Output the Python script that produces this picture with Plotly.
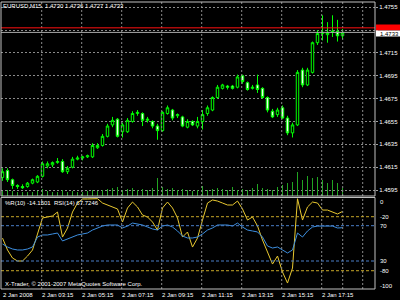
import plotly.graph_objects as go

# ---------------- data (EURUSD M15, 2 Jan 2008) ----------------
opens = [1.4606,1.4612,1.4604,1.4599,1.4598,1.4598,1.4601,1.4602,1.4607,1.4616,
         1.4617,1.4619,1.4620,1.4611,1.4615,1.4622,1.4623,1.4624,1.4624,1.4632,
         1.4634,1.4642,1.4652,1.4657,1.4646,1.4646,1.4655,1.4662,1.4662,1.4656,
         1.4655,1.4651,1.4647,1.4662,1.4665,1.4660,1.4659,1.4650,1.4655,1.4651,
         1.4655,1.4662,1.4665,1.4676,1.4684,1.4686,1.4686,1.4685,1.4695,1.4689,
         1.4684,1.4687,1.4684,1.4676,1.4664,1.4661,1.4667,1.4658,1.4645,1.4652,
         1.4700,1.4687,1.4698,1.4724,1.4732,1.4731,1.4733,1.4734,1.4730]
highs = [1.4614,1.4614,1.4605,1.4600,1.4600,1.4602,1.4605,1.4608,1.4620,1.4620,
         1.4620,1.4623,1.4622,1.4616,1.4624,1.4625,1.4625,1.4626,1.4636,1.4636,
         1.4644,1.4653,1.4659,1.4658,1.4654,1.4658,1.4664,1.4665,1.4663,1.4659,
         1.4656,1.4653,1.4664,1.4669,1.4666,1.4662,1.4660,1.4657,1.4656,1.4659,
         1.4665,1.4669,1.4677,1.4687,1.4688,1.4687,1.4687,1.4696,1.4696,1.4690,
         1.4687,1.4696,1.4685,1.4677,1.4666,1.4667,1.4669,1.4660,1.4654,1.4700,
         1.4702,1.4702,1.4725,1.4735,1.4748,1.4742,1.4748,1.4744,1.4736]
lows = [1.4603,1.4602,1.4596,1.4596,1.4596,1.4597,1.4600,1.4601,1.4606,1.4614,
        1.4615,1.4618,1.4610,1.4609,1.4614,1.4621,1.4621,1.4623,1.4623,1.4631,
        1.4633,1.4641,1.4650,1.4641,1.4641,1.4645,1.4654,1.4660,1.4651,1.4654,
        1.4649,1.4639,1.4646,1.4661,1.4656,1.4658,1.4650,1.4649,1.4651,1.4649,
        1.4648,1.4660,1.4664,1.4675,1.4683,1.4683,1.4683,1.4684,1.4688,1.4682,
        1.4683,1.4680,1.4675,1.4663,1.4658,1.4659,1.4657,1.4643,1.4641,1.4651,
        1.4685,1.4686,1.4697,1.4722,1.4726,1.4724,1.4729,1.4725,1.4727]
closes = [1.4611,1.4604,1.4599,1.4598,1.4597,1.4601,1.4604,1.4607,1.4618,1.4618,
          1.4619,1.4620,1.4611,1.4614,1.4622,1.4623,1.4624,1.4625,1.4634,1.4634,
          1.4642,1.4651,1.4656,1.4642,1.4652,1.4656,1.4662,1.4663,1.4656,1.4657,
          1.4651,1.4647,1.4663,1.4667,1.4658,1.4661,1.4651,1.4655,1.4652,1.4655,
          1.4661,1.4667,1.4676,1.4685,1.4687,1.4685,1.4684,1.4694,1.4690,1.4683,
          1.4685,1.4683,1.4676,1.4665,1.4659,1.4665,1.4658,1.4645,1.4652,1.4698,
          1.4687,1.4700,1.4724,1.4732,1.4733,1.4733,1.4734,1.4730,1.4733]
volumes = [25,30,24,20,22,18,20,26,35,24,20,22,30,20,26,18,20,24,
           30,24,30,35,40,45,30,36,40,30,35,30,40,90,45,35,40,30,
           35,30,25,30,50,30,35,40,35,30,45,30,35,30,40,60,40,35,
           30,45,55,65,70,118,80,100,90,95,80,65,80,65,40]
willr = [-43.7,-57.0,-65.9,-69.2,-69.2,-63.7,-57.0,-38.1,-21.4,-20.3,
         -19.2,-14.8,-42.6,-32.6,-14.8,-4.8,-0.3,-0.3,-0.3,0.0,
         -4.8,-7.0,-9.2,-11.4,-25.9,-10.3,-3.7,-9.2,-18.1,-20.3,
         -25.9,-34.8,-10.3,-3.7,-10.3,-21.4,-42.6,-37.0,-53.7,-43.7,
         -23.7,-4.8,-1.4,-2.6,-4.8,-7.0,-7.0,-2.6,-11.4,-23.7,
         -20.3,-30.3,-45.9,-60.3,-72.6,-63.7,-81.4,-93.7,-77.0,0.0,
         -23.7,-9.2,-3.7,-4.8,-12.6,-12.6,-14.8,-17.0,-14.15]
rsi = [49.3,45.9,43.6,42.5,42.5,43.6,45.9,57.2,59.5,59.5,
       60.6,61.7,52.7,54.9,57.2,59.5,60.6,61.7,65.1,67.4,
       69.6,70.8,70.8,70.8,67.4,69.6,73.0,71.9,70.8,68.5,
       66.3,65.1,69.6,70.8,68.5,64.0,58.3,56.1,56.1,57.2,
       60.6,65.1,67.4,70.8,70.8,70.8,69.6,73.0,68.5,65.1,
       64.0,62.9,57.2,47.0,44.7,45.9,42.5,39.1,42.5,61.7,
       57.2,64.0,68.5,69.6,69.6,69.6,69.6,67.4,67.72]
price_ticks = [1.4595,1.4615,1.4635,1.4655,1.4675,1.4695,1.4715,1.4735,1.4755]
price_labels = ["1.4595","1.4615","1.4635","1.4655","1.4675","1.4695","1.4715","","1.4755"]
time_label_bars = [0,8,16,24,32,40,48,56,64]
time_labels = ["2 Jan 2008","2 Jan 03:15","2 Jan 05:15","2 Jan 07:15","2 Jan 09:15",
               "2 Jan 11:15","2 Jan 13:15","2 Jan 15:15","2 Jan 17:15"]
grid_bars = [7.84,15.84,23.84,31.84,39.84,47.84,55.84,63.84,68.04,72.04]
bid, ask = 1.4733, 1.4737
header = "EURUSD,M15  1.4730 1.4736 1.4727 1.4733"
ind_header = "%R(10) -14.1501  RSI(14) 67.7246"
copyright_txt = "X-Trader, © 2001-2007 MetaQuotes Software Corp."

# ---------------- layout helpers ----------------
W, H = 400, 300
FONT = "Liberation Sans, Arial, sans-serif"
def fx(p): return p / W
def fy(p): return 1 - p / H
XR = [(1 - 2.5) / 5, (375 - 2.5) / 5]          # bar-index range of the plot area
def bar_to_paper(b):
    return fx(1) + (b - XR[0]) / (XR[1] - XR[0]) * (fx(375) - fx(1))

idx = list(range(len(opens)))
GRID = "#8a8a8a"
GREEN = "#00ff00"

fig = go.Figure()
fig.add_trace(go.Bar(x=idx, y=volumes, yaxis="y2", width=0.2,
                     marker=dict(color="#22a522", line=dict(width=0)),
                     hoverinfo="skip", showlegend=False))
fig.add_trace(go.Candlestick(x=idx, open=opens, high=highs, low=lows, close=closes,
                             increasing=dict(line=dict(color=GREEN, width=1), fillcolor="#000000"),
                             decreasing=dict(line=dict(color=GREEN, width=1), fillcolor="#e6ffe6"),
                             whiskerwidth=0, showlegend=False))
fig.add_trace(go.Scatter(x=idx, y=willr, yaxis="y3", mode="lines",
                         line=dict(color="#e8c830", width=1), showlegend=False))
fig.add_trace(go.Scatter(x=idx, y=rsi, yaxis="y4", mode="lines",
                         line=dict(color="#3d8fe0", width=1), showlegend=False))

main_dom = [fy(196), fy(2)]
ind_dom = [fy(289), fy(197)]
pmin = 1.4595 - 6 * 0.00008757
pmax = 1.4595 + 188 * 0.00008757

fig.update_layout(
    width=W, height=H, margin=dict(l=0, r=0, t=0, b=0),
    paper_bgcolor="#000000", plot_bgcolor="#000000",
    font=dict(family=FONT, size=6, color="#ffffff"),
    showlegend=False, bargap=0,
    xaxis=dict(domain=[fx(1), fx(375)], range=XR, anchor="y3",
               showgrid=False, zeroline=False, showticklabels=False,
               rangeslider=dict(visible=False), fixedrange=True),
    yaxis=dict(domain=main_dom, range=[pmin, pmax], side="right", anchor="x",
               tickvals=price_ticks, ticktext=price_labels,
               showgrid=True, gridcolor=GRID, griddash="2px,2px", gridwidth=1,
               zeroline=False, ticks="outside", ticklen=2, tickcolor="#a0a0a0",
               tickfont=dict(size=6, color="#ffffff")),
    yaxis2=dict(overlaying="y", range=[0, max(volumes) * 194 / 24], visible=False),
    yaxis3=dict(domain=ind_dom, range=[-100.3, 1.9], side="right", anchor="x",
                showgrid=False, zeroline=False, showticklabels=False),
    yaxis4=dict(overlaying="y3", range=[-1.7, 102.5], side="right", visible=False),
)

shapes = []
for b in grid_bars:
    for (a0, a1) in [(2, 196), (198, 289)]:
        shapes.append(dict(type="line", xref="x", yref="paper", x0=b, x1=b,
                           y0=fy(a1), y1=fy(a0), line=dict(color=GRID, width=1, dash="2px,2px")))
for v in (-20, -80):
    shapes.append(dict(type="line", xref="paper", yref="y3", x0=fx(1), x1=fx(375), y0=v, y1=v,
                       line=dict(color="#c8a828", width=1, dash="3px,2px")))
for v in (70, 30):
    shapes.append(dict(type="line", xref="paper", yref="y4", x0=fx(1), x1=fx(375), y0=v, y1=v,
                       line=dict(color="#4a7ec8", width=1, dash="3px,2px")))
shapes.append(dict(type="line", xref="paper", yref="y", x0=fx(1), x1=fx(375), y0=ask, y1=ask,
                   line=dict(color="#ff1010", width=1)))
shapes.append(dict(type="line", xref="paper", yref="y", x0=fx(1), x1=fx(375), y0=bid, y1=bid,
                   line=dict(color="#a8a8a8", width=1)))
for (a0, a1) in [(2, 196), (197.5, 289)]:
    shapes.append(dict(type="rect", xref="paper", yref="paper", x0=fx(1), x1=fx(375),
                       y0=fy(a1), y1=fy(a0), line=dict(color="#c0c0c0", width=1)))
shapes.append(dict(type="rect", xref="paper", yref="paper", x0=fx(376), x1=fx(400),
                   y0=fy(30.5), y1=fy(24.5), fillcolor="#ff0000", line=dict(width=0)))
shapes.append(dict(type="rect", xref="paper", yref="paper", x0=fx(376), x1=fx(400),
                   y0=fy(36.5), y1=fy(30.5), fillcolor="#ffffff", line=dict(width=0)))
fig.update_layout(shapes=shapes)

ann = []
ann.append(dict(text="1.4733", xref="paper", yref="paper", x=fx(378), y=fy(33.5),
                xanchor="left", yanchor="middle", showarrow=False,
                font=dict(size=6, color="#000000")))
ann.append(dict(text=header, xref="paper", yref="paper", x=fx(1), y=fy(6),
                xanchor="left", yanchor="middle", showarrow=False))
ann.append(dict(text=ind_header, xref="paper", yref="paper", x=fx(3), y=fy(203),
                xanchor="left", yanchor="middle", showarrow=False))
ann.append(dict(text=copyright_txt, xref="paper", yref="paper", x=fx(3), y=fy(284),
                xanchor="left", yanchor="middle", showarrow=False))
for b, t in zip(time_label_bars, time_labels):
    ann.append(dict(text=t, xref="paper", yref="paper", x=max(bar_to_paper(b - 0.55), fx(0.5)),
                    y=fy(294.5), xanchor="left", yanchor="middle", showarrow=False))
for v, t, dy in [(0, "0", 3), (-20, "-20", 0), (-80, "-80", 0), (-100, "-100", -3)]:
    ann.append(dict(text=t, xref="paper", yref="y3", x=fx(378), y=v, yshift=-dy,
                    xanchor="left", yanchor="middle", showarrow=False))
for v, t in [(70, "70"), (30, "30")]:
    ann.append(dict(text=t, xref="paper", yref="y4", x=fx(378), y=v,
                    xanchor="left", yanchor="middle", showarrow=False))
fig.update_layout(annotations=ann)

fig.write_html("out.html")
